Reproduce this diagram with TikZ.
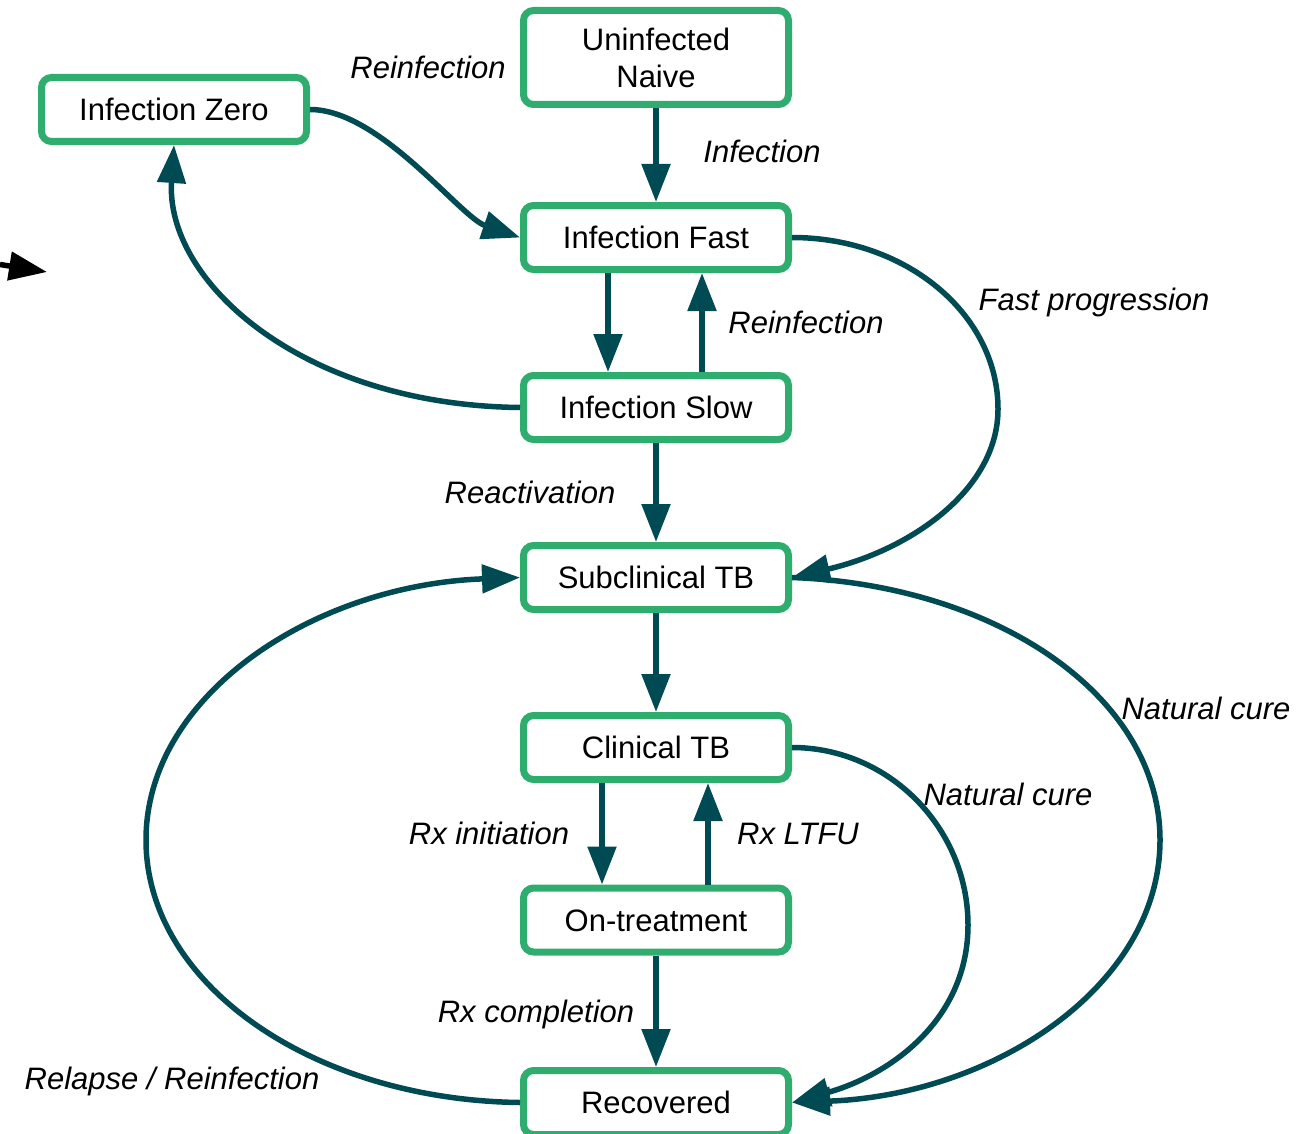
\documentclass[tikz,border=0pt]{standalone}
\usepackage{fontspec}
\setmainfont{Liberation Sans}
\usetikzlibrary{arrows.meta,calc}
\definecolor{boxgreen}{HTML}{2EAD6E}
\definecolor{edgeteal}{HTML}{004A54}
\begin{document}
\begin{tikzpicture}[x=1pt,y=-1pt,
  statebase/.style={draw=boxgreen, line width=7pt, rounded corners=10pt, fill=white,
    minimum width=265pt, minimum height=64pt, inner sep=0pt,
    font=\fontsize{31}{37}\selectfont},
  state/.style={statebase, text height=22pt, text depth=0pt},
  flow/.style={draw=edgeteal, line width=5.5pt, -{Triangle[length=38pt,width=28pt]}},
  lab/.style={font=\fontsize{31}{37}\selectfont\itshape, anchor=base, inner sep=0pt}]
\useasboundingbox (0,0) rectangle (1316,1134);

% states
\node[statebase, align=center, minimum height=94pt] (unin) at (656,57.5) {Uninfected\\Naive};
\node[state] (zero) at (174,109.5) {Infection Zero};
\node[state] (fast) at (656,237.5) {Infection Fast};
\node[state] (slow) at (656,407.5) {Infection Slow};
\node[state] (sub)  at (656,577.5) {Subclinical TB};
\node[state] (clin) at (656,747.5) {Clinical TB};
\node[state] (ont)  at (656,920) {On-treatment};
\node[state] (rec)  at (656,1102.5) {Recovered};

% stray arrow
\coordinate (sa) at (0,264.5);
\coordinate (sb) at (47,272);
\draw[black, line width=5.5pt, -{Triangle[length=38pt,width=28pt]}] (sa) -- (sb);

% connectors
\draw[flow] (unin) -- (fast);
\draw[flow] (zero.east) .. controls (380,109.5) and (460,217) .. (fast.west);
\draw[flow] (slow.west) .. controls (300,405) and (165,280) .. (zero.south);
\draw[flow] ($(fast.south)+(-48,0)$) -- ($(slow.north)+(-48,0)$);
\draw[flow] ($(slow.north)+(46,0)$) -- ($(fast.south)+(46,0)$);
\draw[flow] (fast.east) .. controls (906,237.5) and (998,314) .. (998,409)
                        .. controls (998,490) and (910,550) .. (sub.east);
\draw[flow] (slow) -- (sub);
\draw[flow] (sub) -- (clin);
\draw[flow] (clin.east) .. controls (889,747.5) and (968,828) .. (968,925)
                        .. controls (968,1020) and (890,1075) .. (rec.east);
\draw[flow] (sub.east) .. controls (995,585) and (1160,695) .. (1160,840)
                       .. controls (1160,985) and (995,1095) .. (rec.east);
\draw[flow] (rec.west) .. controls (314,1100) and (146,985) .. (146,840)
                       .. controls (146,695) and (314,585) .. (sub.west);
\draw[flow] ($(clin.south)+(-54,0)$) -- ($(ont.north)+(-54,0)$);
\draw[flow] ($(ont.north)+(52,0)$) -- ($(clin.south)+(52,0)$);
\draw[flow] (ont) -- (rec);

% labels
\node[lab] (l1)  at (428,79)   {Reinfection};
\node[lab] (l2)  at (762,163)  {Infection};
\node[lab] (l3)  at (806,333)  {Reinfection};
\node[lab] (l4)  at (1094,310) {Fast progression};
\node[lab] (l5)  at (530,503)  {Reactivation};
\node[lab] (l6)  at (1206,719) {Natural cure};
\node[lab] (l7)  at (1008,805) {Natural cure};
\node[lab] (l8)  at (489,844)  {Rx initiation};
\node[lab] (l9)  at (798,844)  {Rx LTFU};
\node[lab] (l10) at (536,1022) {Rx completion};
\node[lab] (l11) at (172,1089) {Relapse / Reinfection};
\end{tikzpicture}
\end{document}
